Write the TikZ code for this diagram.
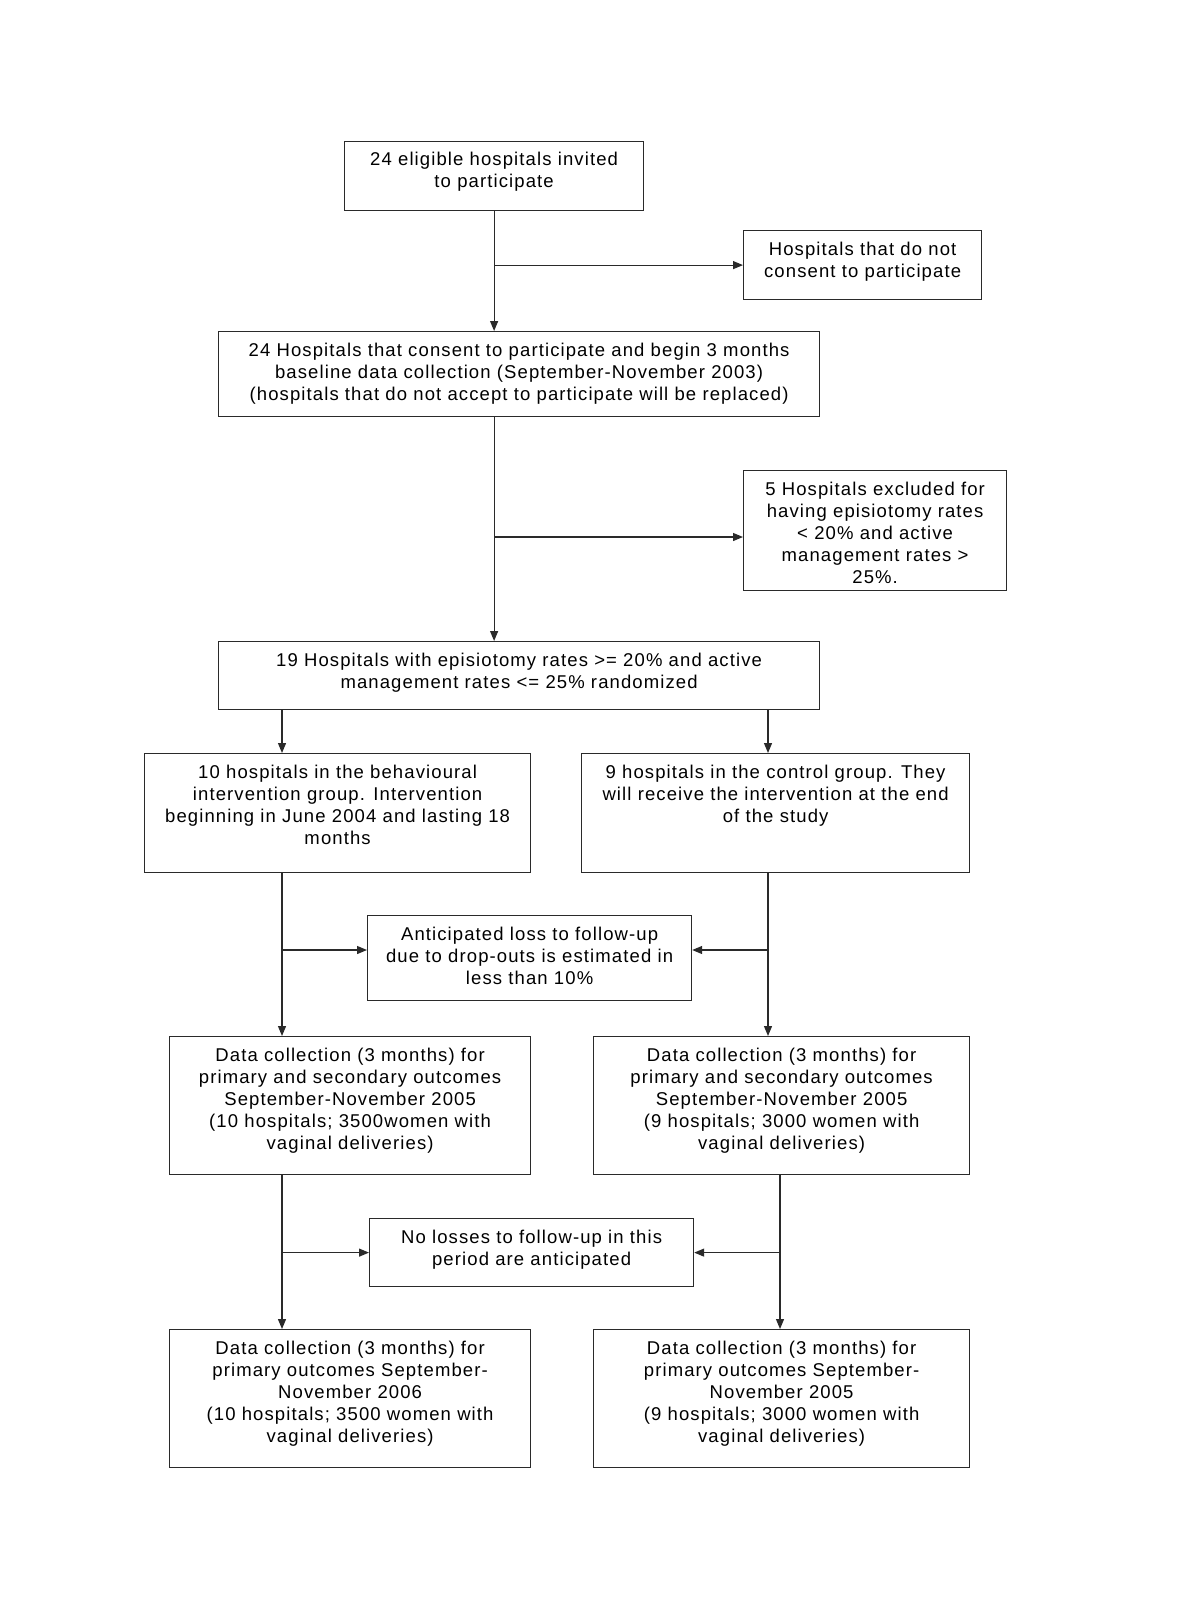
\documentclass[tikz,border=0pt]{standalone}
\usepackage{fontspec}
\setmainfont{Liberation Sans}[LetterSpace=6]
\usetikzlibrary{arrows.meta}
\definecolor{linec}{HTML}{2A2A2A}
\newcommand{\bt}[3]{\begin{minipage}[c][#2pt][t]{#1pt}\centering\vspace*{9pt}\strut #3\end{minipage}}
\tikzset{
  fbox/.style={draw=linec, line width=1.2pt, inner sep=0pt, anchor=north west, font=\fontsize{18.5}{22}\selectfont},
  arr/.style={draw=linec, line width=1.2pt, -{Triangle[length=10pt,width=8pt]}},
  ln/.style={draw=linec, line width=1.2pt}
}
\begin{document}
\begin{tikzpicture}[x=1pt,y=-1pt]
\useasboundingbox[fill=white] (0,0) rectangle (1200,1605);
\node[fbox] (b1) at (344,141) {\bt{299}{69}{24 eligible hospitals invited\\to participate}};
\node[fbox] (nocons) at (743,230) {\bt{238}{69}{Hospitals that do not\\consent to participate}};
\node[fbox] (b2) at (218,331) {\bt{601}{85}{24 Hospitals that consent to participate and begin 3 months\\baseline data collection (September-November 2003)\\(hospitals that do not accept to participate will be replaced)}};
\node[fbox] (excl) at (743,470) {\bt{263}{120}{5 Hospitals excluded for\\having episiotomy rates\\< 20\% and active\\management rates >\\25\%.}};
\node[fbox] (b3) at (218,641) {\bt{601}{68}{19 Hospitals with episiotomy rates >= 20\% and active\\management rates <= 25\% randomized}};
\node[fbox] (b10) at (144,753) {\bt{386}{119}{10 hospitals in the behavioural\\intervention group. Intervention\\beginning in June 2004 and lasting 18\\months}};
\node[fbox] (b9) at (581,753) {\bt{388}{119}{9 hospitals in the control group. They\\will receive the intervention at the end\\of the study}};
\node[fbox] (loss) at (367,915) {\bt{324}{85}{Anticipated loss to follow-up\\due to drop-outs is estimated in\\less than 10\%}};
\node[fbox] (dcL) at (169,1036) {\bt{361}{138}{Data collection (3 months) for\\primary and secondary outcomes\\September-November 2005\\(10 hospitals; 3500women with\\vaginal deliveries)}};
\node[fbox] (dcR) at (593,1036) {\bt{376}{138}{Data collection (3 months) for\\primary and secondary outcomes\\September-November 2005\\(9 hospitals; 3000 women with\\vaginal deliveries)}};
\node[fbox] (nol) at (369,1218) {\bt{324}{68}{No losses to follow-up in this\\period are anticipated}};
\node[fbox] (botL) at (169,1329) {\bt{361}{138}{Data collection (3 months) for\\primary outcomes September-\\November 2006\\(10 hospitals; 3500 women with\\vaginal deliveries)}};
\node[fbox] (botR) at (593,1329) {\bt{376}{138}{Data collection (3 months) for\\primary outcomes September-\\November 2005\\(9 hospitals; 3000 women with\\vaginal deliveries)}};
% main trunk
\draw[arr] (b1.south) -- (b1.south |- b2.north);
\draw[arr] (b1.south |- nocons.west) -- (nocons.west);
\draw[arr] (b1.south |- b2.south) -- (b1.south |- b3.north);
\coordinate (j2) at (494,537);
\draw[arr] (j2) -- (j2 -| excl.west);
% split
\coordinate (cL) at (282,0);
\coordinate (cR) at (768,0);
\coordinate (cR2) at (780,0);
\draw[arr] (cL |- b3.south) -- (cL |- b10.north);
\draw[arr] (cR |- b3.south) -- (cR |- b9.north);
\draw[arr] (cL |- b10.south) -- (cL |- dcL.north);
\draw[arr] (cR |- b9.south) -- (cR |- dcR.north);
\coordinate (jl) at (282,950);
\coordinate (jr) at (768,950);
\draw[arr] (jl) -- (jl -| loss.west);
\draw[arr] (jr) -- (jr -| loss.east);
\draw[arr] (cL |- dcL.south) -- (cL |- botL.north);
\draw[arr] (cR2 |- dcR.south) -- (cR2 |- botR.north);
\draw[arr] (cL |- nol.west) -- (nol.west);
\draw[arr] (cR2 |- nol.east) -- (nol.east);
\end{tikzpicture}
\end{document}
